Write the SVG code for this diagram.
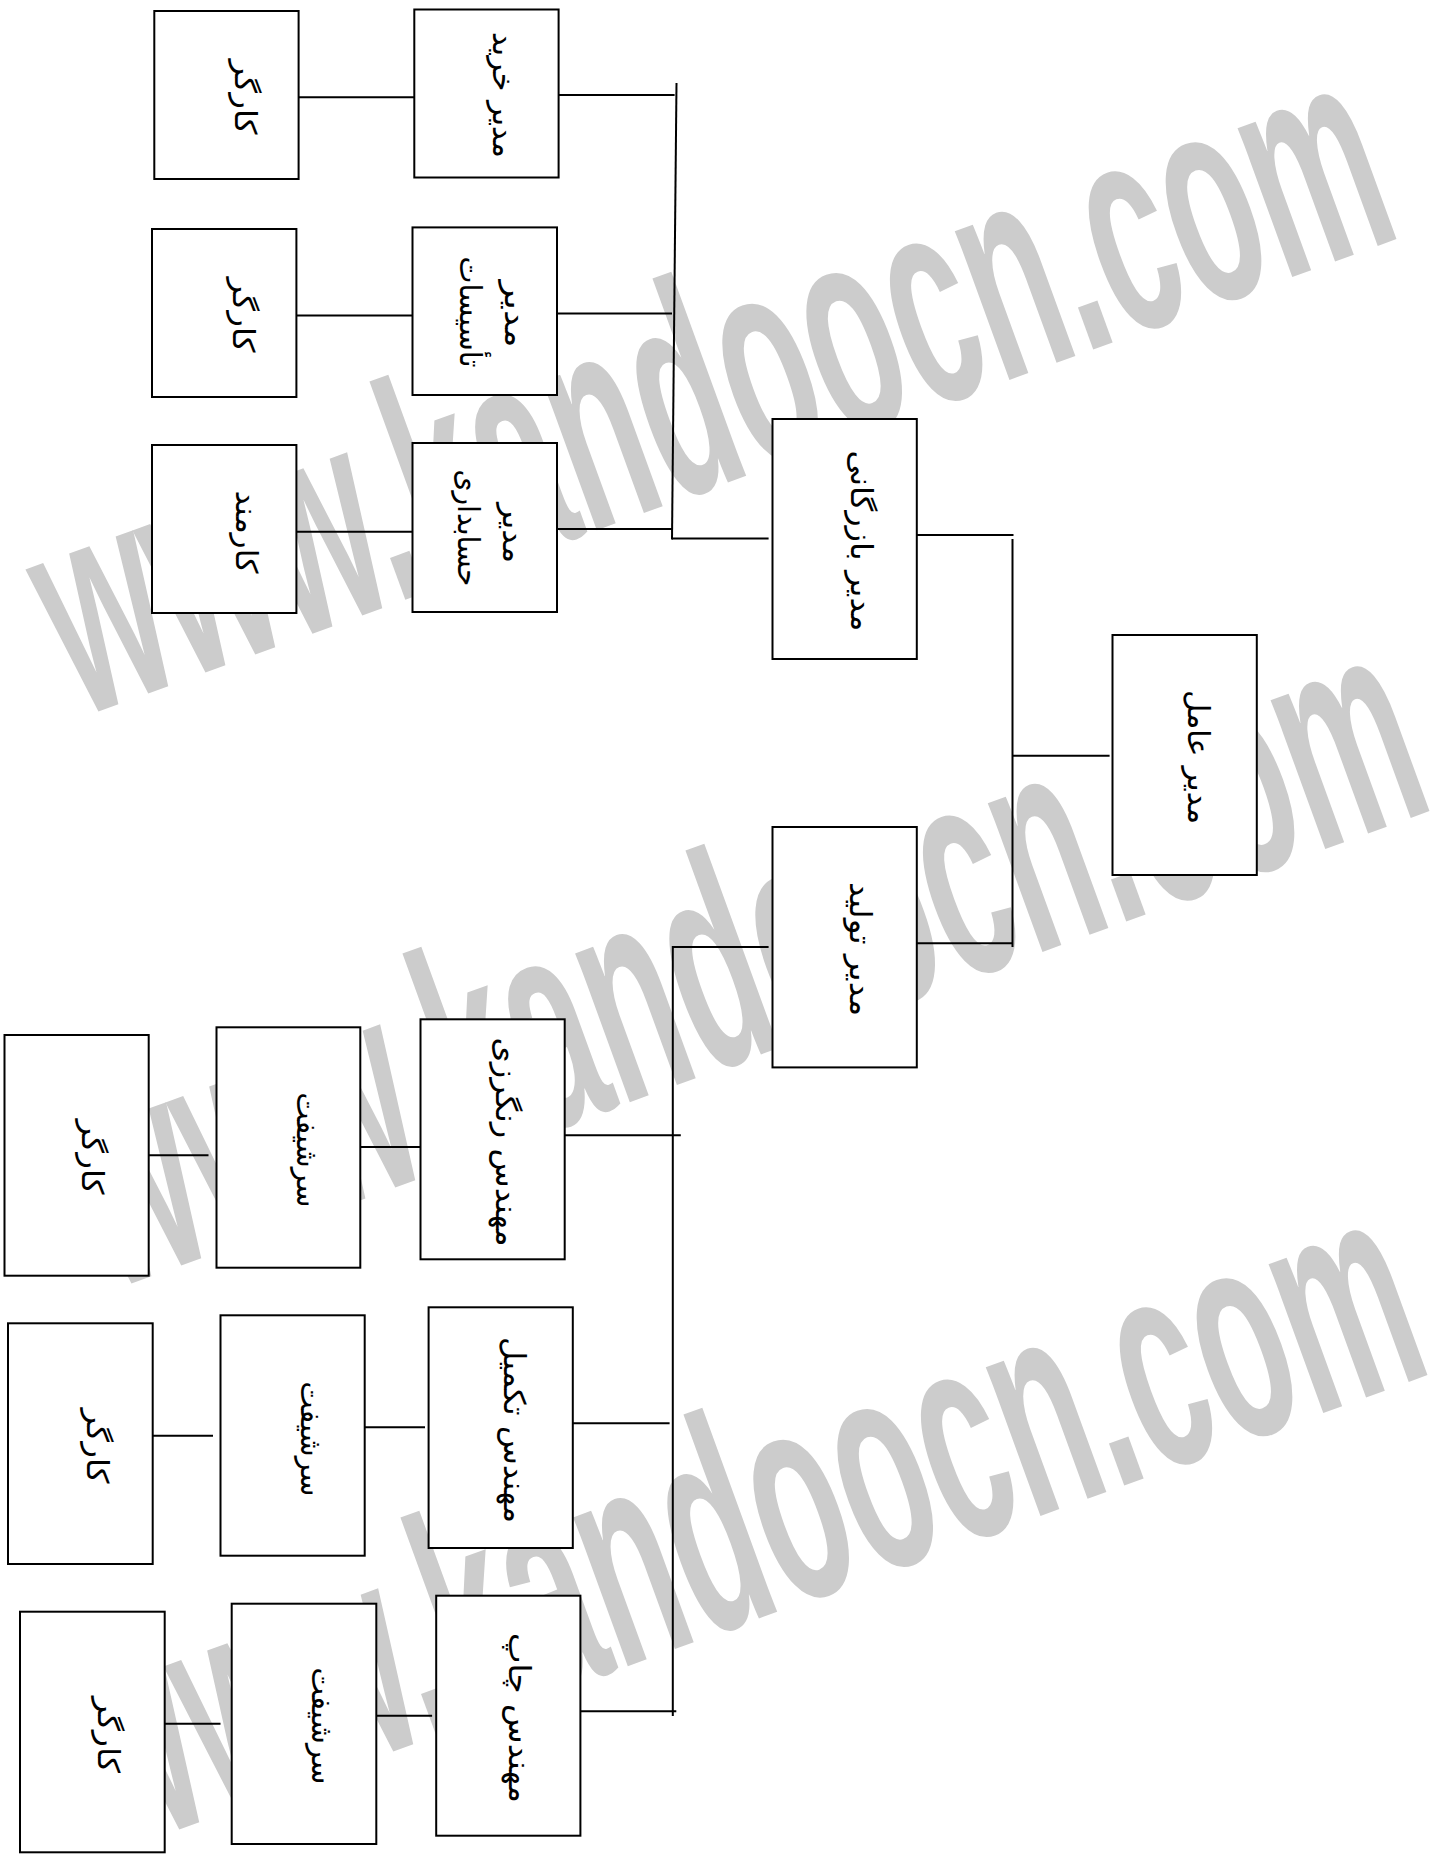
<svg xmlns="http://www.w3.org/2000/svg" width="1454" height="1854" viewBox="0 0 1454 1854">
<style>
.box{fill:#fff;stroke:#000;stroke-width:2}
.ln{stroke:#000;stroke-width:2;fill:none}
.lbl{font-family:"DejaVu Sans",sans-serif;font-size:30px;fill:#000}
.wm{font-family:"Liberation Sans",Arial,sans-serif;font-weight:bold;font-size:300px;fill:#cccccc}
</style>
<rect width="1454" height="1854" fill="#fff"/>
<g id="watermark">
<text class="wm" transform="translate(1405,236) rotate(-20)" text-anchor="end" textLength="1410" lengthAdjust="spacingAndGlyphs">www.kandoocn.com</text>
<text class="wm" transform="translate(1438,808) rotate(-20)" text-anchor="end" textLength="1410" lengthAdjust="spacingAndGlyphs">www.kandoocn.com</text>
<text class="wm" transform="translate(1436,1372) rotate(-20)" text-anchor="end" textLength="1410" lengthAdjust="spacingAndGlyphs">www.kandoocn.com</text>
</g>
<g id="connectors">
<line class="ln" x1="298.6" y1="97.3" x2="414.3" y2="97.3"/>
<line class="ln" x1="558.6" y1="95" x2="674.6" y2="95"/>
<line class="ln" x1="296.4" y1="315.5" x2="412.5" y2="315.5"/>
<line class="ln" x1="557" y1="313.6" x2="672" y2="313.6"/>
<line class="ln" x1="296.4" y1="531.8" x2="412.5" y2="531.8"/>
<line class="ln" x1="557" y1="529" x2="672" y2="529"/>
<line class="ln" x1="676.5" y1="83" x2="672" y2="539.5"/>
<line class="ln" x1="672" y1="538.6" x2="768.6" y2="538.6"/>
<line class="ln" x1="916.8" y1="535" x2="1013.5" y2="535"/>
<line class="ln" x1="1012.5" y1="539" x2="1012.5" y2="947"/>
<line class="ln" x1="1012.5" y1="755.8" x2="1109.6" y2="755.8"/>
<line class="ln" x1="916.8" y1="943.3" x2="1012.5" y2="943.3"/>
<line class="ln" x1="672.8" y1="947" x2="768.6" y2="947"/>
<line class="ln" x1="672.8" y1="946" x2="672.8" y2="1716"/>
<line class="ln" x1="148.7" y1="1155.3" x2="208.5" y2="1155.3"/>
<line class="ln" x1="360.3" y1="1147" x2="420.5" y2="1147"/>
<line class="ln" x1="564.7" y1="1135.3" x2="680.8" y2="1135.3"/>
<line class="ln" x1="152.7" y1="1435.7" x2="213" y2="1435.7"/>
<line class="ln" x1="364.7" y1="1427.3" x2="425" y2="1427.3"/>
<line class="ln" x1="572.8" y1="1423.3" x2="669.6" y2="1423.3"/>
<line class="ln" x1="159.8" y1="1723.7" x2="220.5" y2="1723.7"/>
<line class="ln" x1="372.3" y1="1715.7" x2="432.1" y2="1715.7"/>
<line class="ln" x1="580.4" y1="1711.3" x2="676.3" y2="1711.3"/>
</g>
<g id="n1"><rect class="box" x="154.3" y="11" width="144.3" height="168"/><text class="lbl" transform="translate(235,97) rotate(90)" text-anchor="middle" textLength="75" lengthAdjust="spacingAndGlyphs">کارگر</text></g>
<g id="n2"><rect class="box" x="414.3" y="9.5" width="144.3" height="168"/><text class="lbl" transform="translate(493,95) rotate(90)" text-anchor="middle" textLength="126" lengthAdjust="spacingAndGlyphs">مدیر خرید</text></g>
<g id="n3"><rect class="box" x="152" y="229" width="144.4" height="168"/><text class="lbl" transform="translate(233,315) rotate(90)" text-anchor="middle" textLength="75" lengthAdjust="spacingAndGlyphs">کارگر</text></g>
<g id="n4"><rect class="box" x="412.5" y="227.4" width="144.5" height="167.6"/><text class="lbl" transform="translate(505,314) rotate(90)" text-anchor="middle" textLength="67" lengthAdjust="spacingAndGlyphs">مدیر</text><text class="lbl" transform="translate(460,312) rotate(90)" text-anchor="middle" textLength="111" lengthAdjust="spacingAndGlyphs">تأسیسات</text></g>
<g id="n5"><rect class="box" x="152" y="445" width="144.4" height="168"/><text class="lbl" transform="translate(236,532) rotate(90)" text-anchor="middle" textLength="83" lengthAdjust="spacingAndGlyphs">کارمند</text></g>
<g id="n6"><rect class="box" x="412.5" y="443" width="144.5" height="169"/><text class="lbl" transform="translate(503,533) rotate(90)" text-anchor="middle" textLength="60" lengthAdjust="spacingAndGlyphs">مدیر</text><text class="lbl" transform="translate(458,528) rotate(90)" text-anchor="middle" textLength="117" lengthAdjust="spacingAndGlyphs">حسابداری</text></g>
<g id="n7"><rect class="box" x="772.5" y="419" width="144.3" height="240"/><text class="lbl" transform="translate(851,541) rotate(90)" text-anchor="middle" textLength="181" lengthAdjust="spacingAndGlyphs">مدیر بازرگانی</text></g>
<g id="n8"><rect class="box" x="1112.5" y="635" width="144.3" height="240"/><text class="lbl" transform="translate(1188,757) rotate(90)" text-anchor="middle" textLength="134" lengthAdjust="spacingAndGlyphs">مدیر عامل</text></g>
<g id="n9"><rect class="box" x="772.5" y="827" width="144.3" height="240.4"/><text class="lbl" transform="translate(850,949) rotate(90)" text-anchor="middle" textLength="134" lengthAdjust="spacingAndGlyphs">مدیر تولید</text></g>
<g id="n10"><rect class="box" x="420.5" y="1019.3" width="144.2" height="240"/><text class="lbl" transform="translate(496,1142) rotate(90)" text-anchor="middle" textLength="209" lengthAdjust="spacingAndGlyphs">مهندس رنگرزی</text></g>
<g id="n11"><rect class="box" x="216.5" y="1027.3" width="143.8" height="240.4"/><text class="lbl" transform="translate(297,1150) rotate(90)" text-anchor="middle" textLength="115" lengthAdjust="spacingAndGlyphs">سرشیفت</text></g>
<g id="n12"><rect class="box" x="4.5" y="1035" width="144.2" height="240.7"/><text class="lbl" transform="translate(82,1157) rotate(90)" text-anchor="middle" textLength="75" lengthAdjust="spacingAndGlyphs">کارگر</text></g>
<g id="n13"><rect class="box" x="428.6" y="1307.3" width="144.2" height="240.7"/><text class="lbl" transform="translate(504,1430) rotate(90)" text-anchor="middle" textLength="186" lengthAdjust="spacingAndGlyphs">مهندس تکمیل</text></g>
<g id="n14"><rect class="box" x="220.5" y="1315.3" width="144.2" height="240.4"/><text class="lbl" transform="translate(301,1439) rotate(90)" text-anchor="middle" textLength="115" lengthAdjust="spacingAndGlyphs">سرشیفت</text></g>
<g id="n15"><rect class="box" x="8" y="1323.3" width="144.7" height="240.7"/><text class="lbl" transform="translate(87,1446) rotate(90)" text-anchor="middle" textLength="75" lengthAdjust="spacingAndGlyphs">کارگر</text></g>
<g id="n16"><rect class="box" x="436.2" y="1595.7" width="144.2" height="240"/><text class="lbl" transform="translate(509,1718) rotate(90)" text-anchor="middle" textLength="170" lengthAdjust="spacingAndGlyphs">مهندس چاپ</text></g>
<g id="n17"><rect class="box" x="231.7" y="1603.7" width="144.6" height="240.3"/><text class="lbl" transform="translate(312,1726) rotate(90)" text-anchor="middle" textLength="117" lengthAdjust="spacingAndGlyphs">سرشیفت</text></g>
<g id="n18"><rect class="box" x="20" y="1611.7" width="144.7" height="240.6"/><text class="lbl" transform="translate(98,1735) rotate(90)" text-anchor="middle" textLength="76" lengthAdjust="spacingAndGlyphs">کارگر</text></g>
</svg>
